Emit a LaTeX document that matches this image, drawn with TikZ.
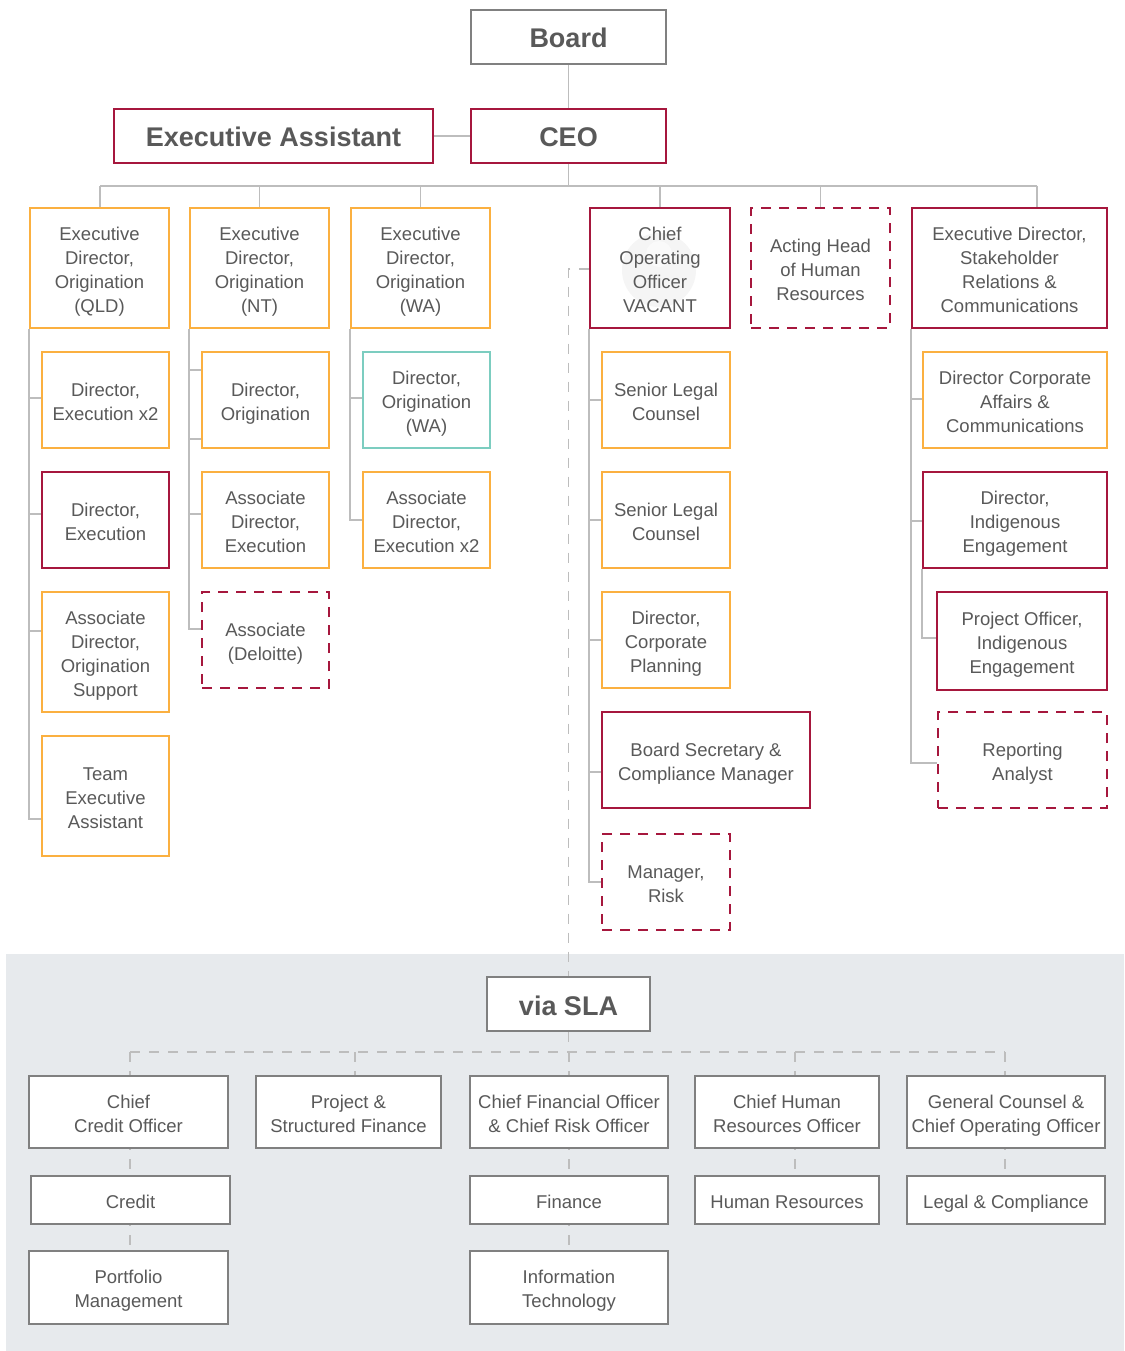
\documentclass[tikz,border=0pt]{standalone}
\usepackage{fontspec}
\setmainfont{Liberation Sans}
\usetikzlibrary{calc}
\definecolor{crim}{HTML}{A6173D}
\definecolor{ora}{HTML}{FBB040}
\definecolor{tealc}{HTML}{7CCDC0}
\definecolor{lnc}{HTML}{BDBDBD}
\definecolor{txt}{HTML}{595959}
\definecolor{bxg}{HTML}{808080}
\definecolor{bgc}{HTML}{E7EAED}
\newcommand\rz{6.5pt}
\newcommand\bx[7]{\node[#6, minimum width={#4-#2}, minimum height={#5-#3}] (#1) at ({(#2+#4)/2},{(#3+#5)/2}) {\raisebox{0pt}[\dimexpr\height+\rz\relax][\depth]{\begin{tabular}{@{}c@{}}#7\end{tabular}}};}
\tikzset{
  box/.style={draw, line width=2pt, fill=white, inner sep=0pt, text=txt,
    font=\fontsize{18.5}{24}\selectfont\def\rz{6.5pt}},
  redbox/.style={box, draw=crim},
  orabox/.style={box, draw=ora},
  tealbox/.style={box, draw=tealc},
  vacbox/.style={box, draw=crim, dash pattern=on 10pt off 8pt},
  greybox/.style={box, draw=bxg},
  titlef/.style={font=\fontsize{27}{30}\selectfont\bfseries\def\rz{10pt}},
  conn/.style={draw=lnc, line width=1.5pt},
  dconn/.style={conn, dash pattern=on 10pt off 9pt},
}
\begin{document}
\begin{tikzpicture}[x=1pt,y=-1pt]
\useasboundingbox (0,0) rectangle (1124,1351);
\fill[white] (0,0) rectangle (1124,1351);
\fill[bgc] (6,954) rectangle (1124,1351);

% top
\bx{board}{471}{10}{666}{64}{greybox,titlef}{Board}
\bx{ceo}{471}{109}{666}{163}{redbox,titlef}{CEO}
\bx{ea}{114}{109}{433}{163}{redbox,titlef}{Executive Assistant}

% level 1
\bx{qld}{30}{208}{169}{328}{orabox}{Executive\\Director,\\Origination\\(QLD)}
\bx{nt}{190}{208}{329}{328}{orabox}{Executive\\Director,\\Origination\\(NT)}
\bx{wa}{351}{208}{490}{328}{orabox}{Executive\\Director,\\Origination\\(WA)}
\fill[black!4] (659,270) circle (37);
\fill[black!2] (659,254) circle (13);
\bx{coo}{590}{208}{730}{328}{redbox,fill=none}{Chief\\Operating\\Officer\\VACANT}
\bx{ahr}{751}{208}{890}{328}{vacbox}{Acting Head\\of Human\\Resources}
\bx{eds}{912}{208}{1107}{328}{redbox}{Executive Director,\\Stakeholder\\Relations \&\\Communications}

% QLD column
\bx{q1}{42}{352}{169}{448}{orabox}{Director,\\Execution x2}
\bx{q2}{42}{472}{169}{568}{redbox}{Director,\\Execution}
\bx{q3}{42}{592}{169}{712}{orabox}{Associate\\Director,\\Origination\\Support}
\bx{q4}{42}{736}{169}{856}{orabox}{Team\\Executive\\Assistant}

% NT column
\bx{n1}{202}{352}{329}{448}{orabox}{Director,\\Origination}
\bx{n2}{202}{472}{329}{568}{orabox}{Associate\\Director,\\Execution}
\bx{n3}{202}{592}{329}{688}{vacbox}{Associate\\(Deloitte)}

% WA column
\bx{w1}{363}{352}{490}{448}{tealbox}{Director,\\Origination\\(WA)}
\bx{w2}{363}{472}{490}{568}{orabox}{Associate\\Director,\\Execution x2}

% COO column
\bx{c1}{602}{352}{730}{448}{orabox}{Senior Legal\\Counsel}
\bx{c2}{602}{472}{730}{568}{orabox}{Senior Legal\\Counsel}
\bx{c3}{602}{592}{730}{688}{orabox}{Director,\\Corporate\\Planning}
\bx{c4}{602}{712}{810}{808}{redbox}{Board Secretary \&\\Compliance Manager}
\bx{c5}{602}{834}{730}{930}{vacbox}{Manager,\\Risk}

% EDS column
\bx{e1}{923}{352}{1107}{448}{orabox}{Director Corporate\\Affairs \&\\Communications}
\bx{e2}{923}{472}{1107}{568}{redbox}{Director,\\Indigenous\\Engagement}
\bx{e3}{937}{592}{1107}{690}{redbox}{Project Officer,\\Indigenous\\Engagement}
\bx{e4}{938}{712}{1107}{808}{vacbox}{Reporting\\Analyst}

% via SLA
\bx{sla}{487}{977}{650}{1031}{greybox,titlef}{via SLA}
\bx{b1}{29}{1076}{228}{1148}{greybox}{Chief\\Credit Officer}
\bx{b2}{256}{1076}{441}{1148}{greybox}{Project \&\\Structured Finance}
\bx{b3}{470}{1076}{668}{1148}{greybox}{Chief Financial Officer\\\& Chief Risk Officer}
\bx{b4}{695}{1076}{879}{1148}{greybox}{Chief Human\\Resources Officer}
\bx{b5}{907}{1076}{1105}{1148}{greybox}{General Counsel \&\\Chief Operating Officer}
\bx{r1}{31}{1176}{230}{1224}{greybox}{Credit}
\bx{r3}{470}{1176}{668}{1224}{greybox}{Finance}
\bx{r4}{695}{1176}{879}{1224}{greybox}{Human Resources}
\bx{r5}{907}{1176}{1105}{1224}{greybox}{Legal \& Compliance}
\bx{t1}{29}{1251}{228}{1324}{greybox}{Portfolio\\Management}
\bx{t3}{470}{1251}{668}{1324}{greybox}{Information\\Technology}

% top connectors
\draw[conn] (board.south) -- (ceo.north);
\draw[conn] (ea.east) -- (ceo.west);
\coordinate (busL) at (100,186);
\coordinate (busR) at (1037,186);
\draw[conn] (busL) -- (busR);
\draw[conn] (ceo.south) -- (ceo.south |- busL);
\draw[conn] (busL) -- (busL |- qld.north);
\draw[conn] (nt.north |- busL) -- (nt.north);
\draw[conn] (wa.north |- busL) -- (wa.north);
\draw[conn] (coo.north |- busL) -- (coo.north);
\draw[conn] (ahr.north |- busL) -- (ahr.north);
\draw[conn] (busR) -- (busR |- eds.north);

% column connectors
\draw[conn] (qld.south west) |- (q4.west |- 0,819);
\draw[conn] (qld.south west) |- (q1.west |- 0,398);
\draw[conn] (qld.south west) |- (q2.west |- 0,514);
\draw[conn] (qld.south west) |- (q3.west |- 0,631);

\draw[conn] (nt.south west) |- (n3.west |- 0,629);
\draw[conn] (nt.south west) |- (n1.west |- 0,370);
\draw[conn] (nt.south west) |- (n1.west |- 0,439);
\draw[conn] (nt.south west) |- (n2.west |- 0,514);

\draw[conn] (wa.south west) |- (w2.west |- 0,520);
\draw[conn] (wa.south west) |- (w1.west |- 0,398);

\draw[conn] (coo.south west) |- (c5.west |- 0,882);
\draw[conn] (coo.south west) |- (c1.west |- 0,400);
\draw[conn] (coo.south west) |- (c2.west |- 0,520);
\draw[conn] (coo.south west) |- (c3.west |- 0,640);
\draw[conn] (coo.south west) |- (c4.west |- 0,772);

\draw[conn] (eds.south west) |- (e4.west |- 0,763);
\draw[conn] (eds.south west) |- (e1.west |- 0,399);
\draw[conn] (eds.south west) |- (e2.west |- 0,521);
\draw[conn] (e2.south west) |- (e3.west |- 0,638);

% dashed link to via SLA
\draw[dconn] (coo.west |- 0,269) -| (sla.north);

% SLA bus
\coordinate (sbL) at (130,1052);
\coordinate (sbR) at (1005,1052);
\coordinate (d2) at (355,1052);
\coordinate (d4) at (795,1052);
\draw[dconn] (sla.south) -- (sla.south |- sbL);
\draw[dconn] (sbL) -- (sbR);
\draw[dconn] (sbL) -- (sbL |- b1.north);
\draw[dconn] (d2) -- (d2 |- b2.north);
\draw[dconn] (b3.north |- sbL) -- (b3.north);
\draw[dconn] (d4) -- (d4 |- b4.north);
\draw[dconn] (sbR) -- (sbR |- b5.north);

\draw[dconn, dash phase=9pt] (sbL |- b1.south) -- (sbL |- r1.north);
\draw[dconn, dash phase=9pt] (sbL |- r1.south) -- (sbL |- t1.north);
\draw[dconn, dash phase=9pt] (b3.south) -- (r3.north);
\draw[dconn, dash phase=9pt] (r3.south) -- (t3.north);
\draw[dconn, dash phase=9pt] (d4 |- b4.south) -- (d4 |- r4.north);
\draw[dconn, dash phase=9pt] (sbR |- b5.south) -- (sbR |- r5.north);
\end{tikzpicture}
\end{document}
